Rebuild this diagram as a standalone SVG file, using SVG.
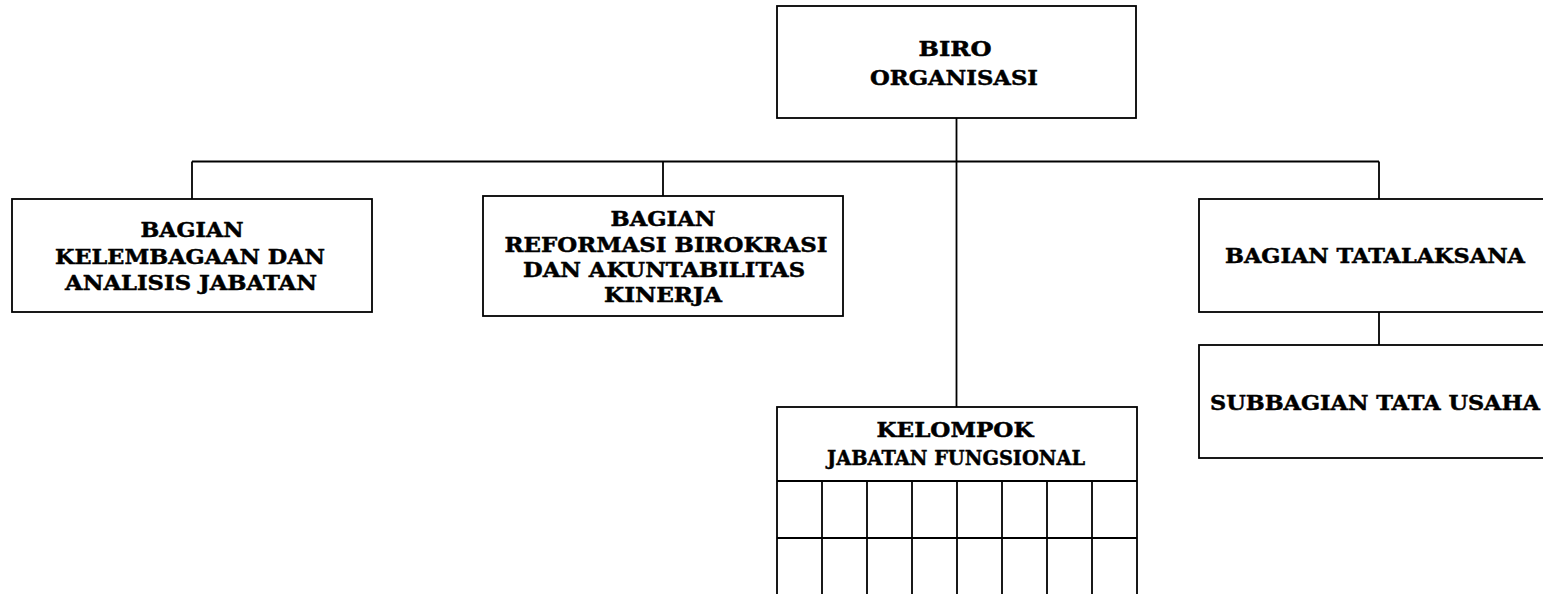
<svg xmlns="http://www.w3.org/2000/svg" width="1543" height="594" viewBox="0 0 1543 594">
<style>
rect{fill:#fff;stroke:#000;stroke-width:1.8}
line,path{stroke:#000;stroke-width:1.8;fill:none}
text{font-family:"DejaVu Serif","Liberation Serif",serif;font-weight:bold;font-size:20px;fill:#000;stroke:#000;stroke-width:0.45;text-anchor:middle}
</style>
<rect x="0" y="0" width="1543" height="594" style="stroke:none"/>
<g id="connectors">
<line x1="956.5" y1="118" x2="956.5" y2="407"/>
<line x1="192" y1="161.5" x2="1379" y2="161.5"/>
<line x1="192" y1="161.5" x2="192" y2="199"/>
<line x1="663" y1="161.5" x2="663" y2="196"/>
<line x1="1379" y1="161.5" x2="1379" y2="199"/>
<line x1="1379" y1="312" x2="1379" y2="345"/>
</g>
<g id="biro">
<rect x="777" y="6" width="359" height="112"/>
<text x="955" y="56" textLength="73" lengthAdjust="spacingAndGlyphs">BIRO</text>
<text x="954" y="85" textLength="168" lengthAdjust="spacingAndGlyphs">ORGANISASI</text>
</g>
<g id="kelembagaan">
<rect x="12" y="199" width="360" height="113"/>
<text x="192" y="237" textLength="103" lengthAdjust="spacingAndGlyphs">BAGIAN</text>
<text x="190" y="264" textLength="270" lengthAdjust="spacingAndGlyphs">KELEMBAGAAN DAN</text>
<text x="191" y="290" textLength="252" lengthAdjust="spacingAndGlyphs">ANALISIS JABATAN</text>
</g>
<g id="reformasi">
<rect x="483" y="196" width="360" height="120"/>
<text x="663" y="226" textLength="105" lengthAdjust="spacingAndGlyphs">BAGIAN</text>
<text x="666" y="252" textLength="323" lengthAdjust="spacingAndGlyphs">REFORMASI BIROKRASI</text>
<text x="664" y="277" textLength="282" lengthAdjust="spacingAndGlyphs">DAN AKUNTABILITAS</text>
<text x="663" y="302" textLength="118" lengthAdjust="spacingAndGlyphs">KINERJA</text>
</g>
<g id="tatalaksana">
<rect x="1199" y="199" width="360" height="113"/>
<text x="1375" y="263" textLength="300" lengthAdjust="spacingAndGlyphs">BAGIAN TATALAKSANA</text>
</g>
<g id="subbagian">
<rect x="1199" y="345" width="360" height="113"/>
<text x="1210" y="410" textLength="330" lengthAdjust="spacingAndGlyphs" style="text-anchor:start">SUBBAGIAN TATA USAHA</text>
</g>
<g id="kelompok">
<rect x="777" y="407" width="360" height="200"/>
<line x1="777" y1="481" x2="1137" y2="481"/>
<line x1="777" y1="538" x2="1137" y2="538"/>
<line x1="822" y1="481" x2="822" y2="600"/>
<line x1="867" y1="481" x2="867" y2="600"/>
<line x1="912" y1="481" x2="912" y2="600"/>
<line x1="957" y1="481" x2="957" y2="600"/>
<line x1="1002" y1="481" x2="1002" y2="600"/>
<line x1="1047" y1="481" x2="1047" y2="600"/>
<line x1="1092" y1="481" x2="1092" y2="600"/>
<text x="955" y="437" textLength="157" lengthAdjust="spacingAndGlyphs">KELOMPOK</text>
<text x="956" y="465" textLength="258" lengthAdjust="spacingAndGlyphs">JABATAN FUNGSIONAL</text>
</g>
</svg>
